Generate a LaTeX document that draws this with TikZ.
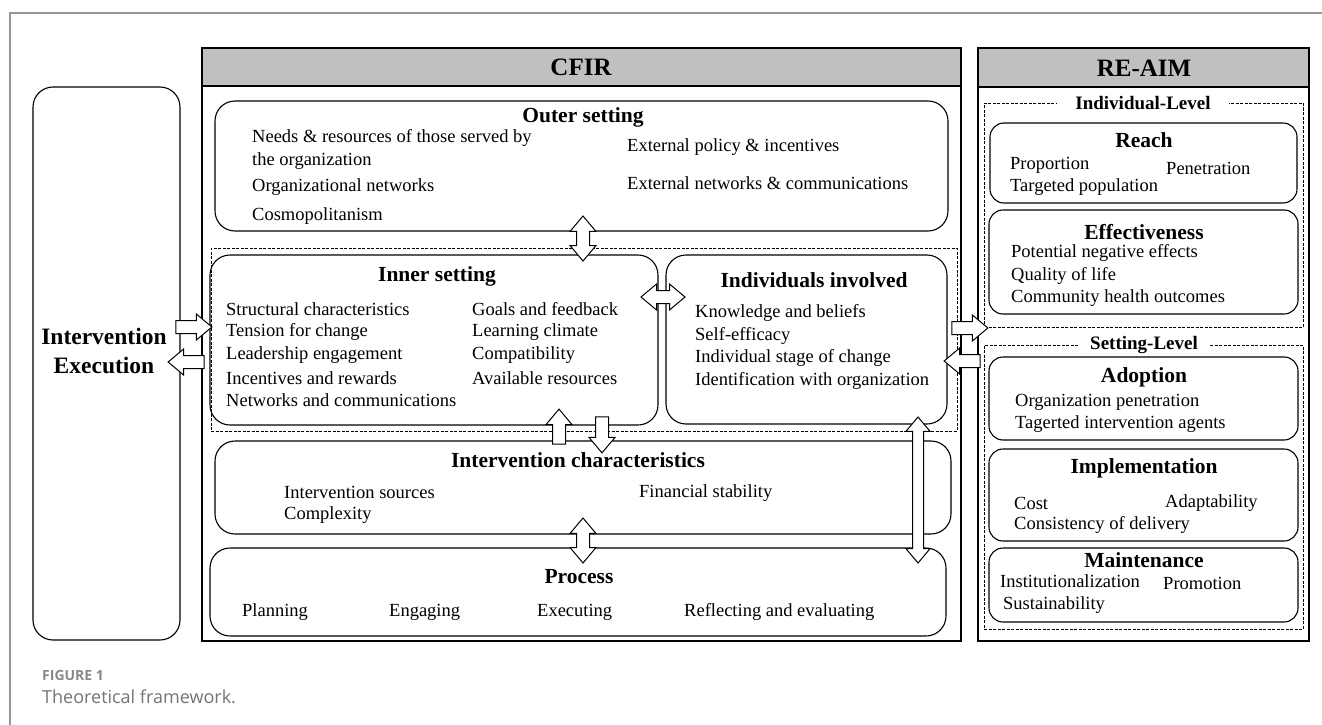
\documentclass[tikz,border=0pt]{standalone}
\usepackage{fontspec}
\setmainfont{Liberation Serif}
\newfontfamily\capfont{Open Sans}
\usetikzlibrary{shapes.arrows}
\definecolor{headgray}{RGB}{192,192,192}
\definecolor{framegray}{RGB}{150,150,150}
\definecolor{capgray}{RGB}{115,115,115}
\tikzset{
  panel/.style={draw, line width=1.2pt, inner sep=0pt, outer sep=0pt},
  rbox/.style={draw, line width=1.1pt, rounded corners=20pt, inner sep=0pt},
  sbox/.style={rbox, rounded corners=14pt},
  dbox/.style={draw, line width=0.7pt, dash pattern=on 3pt off 1.5pt, inner sep=0pt},
  hdr/.style={font=\fontsize{25}{28}\selectfont\bfseries, inner sep=0pt},
  ttl/.style={font=\fontsize{21.5}{24}\selectfont\bfseries, inner sep=0pt},
  lvl/.style={font=\fontsize{19}{21}\selectfont\bfseries, fill=white, inner xsep=12pt, inner ysep=1pt},
  itm/.style={font=\fontsize{18.5}{21}\selectfont, anchor=west, inner sep=0pt},
  barrow/.style={single arrow, draw, fill=white, line width=1pt, inner sep=6pt,
    single arrow head extend=6.5pt, single arrow tip angle=80, minimum height=#1},
  darrow/.style={double arrow, draw, fill=white, line width=1pt, inner sep=6pt,
    double arrow head extend=6.5pt, double arrow tip angle=80, minimum height=#1},
}
\begin{document}
\begin{tikzpicture}[x=1pt, y=-1pt]
\useasboundingbox (0,0) rectangle (1322,725);
\draw[framegray, line width=1.5pt] (10,725) -- (10,13) -- (1322,13);

% left column
\node[rbox, minimum width=147pt, minimum height=553pt] (exec) at (106.5,363.5) {};
\node[font=\fontsize{23.5}{29}\selectfont\bfseries, align=center] (execlbl) at (104,351) {Intervention\\Execution};

% CFIR panel
\node[panel, minimum width=759pt, minimum height=593pt] (cfir) at (581.5,344.5) {};
\node[panel, fill=headgray, minimum width=759pt, minimum height=38pt] (cfirhead) at (581.5,67) {};
\node[hdr] (cfirlbl) at (581,67) {CFIR};

\node[rbox, minimum width=733pt, minimum height=130pt] (outer) at (581.5,166) {};
\node[ttl] (outerlbl) at (583,117) {Outer setting};
\node[itm] (os1) at (252,138) {Needs \& resources of those served by};
\node[itm] (os2) at (252,161) {the organization};
\node[itm] (os3) at (252,187) {Organizational networks};
\node[itm] (os4) at (252,216) {Cosmopolitanism};
\node[itm] (os5) at (627,147) {External policy \& incentives};
\node[itm] (os6) at (627,183) {External networks \& communications};

\node[dbox, minimum width=746pt, minimum height=183pt] (core) at (584,339.5) {};
\node[rbox, minimum width=448pt, minimum height=170pt] (inner) at (434,340) {};
\node[ttl] (innerlbl) at (437,276) {Inner setting};
\node[itm] (is1) at (226,309) {Structural characteristics};
\node[itm] (is2) at (226,332) {Tension for change};
\node[itm] (is3) at (226,355) {Leadership engagement};
\node[itm] (is4) at (226,378) {Incentives and rewards};
\node[itm] (is5) at (226,400) {Networks and communications};
\node[itm] (is6) at (472,309) {Goals and feedback};
\node[itm] (is7) at (472,332) {Learning climate};
\node[itm] (is8) at (472,355) {Compatibility};
\node[itm] (is9) at (472,378) {Available resources};

\node[rbox, minimum width=281pt, minimum height=169pt] (indiv) at (806.5,339.5) {};
\node[ttl] (indivlbl) at (814,280) {Individuals involved};
\node[itm] (ii1) at (695,313) {Knowledge and beliefs};
\node[itm] (ii2) at (695,336) {Self-efficacy};
\node[itm] (ii3) at (695,358) {Individual stage of change};
\node[itm] (ii4) at (695,381) {Identification with organization};

\node[rbox, minimum width=736pt, minimum height=93pt] (intchar) at (583,487.5) {};
\node[ttl] (intcharlbl) at (578,460) {Intervention characteristics};
\node[itm] (ic1) at (284,492) {Intervention sources};
\node[itm] (ic2) at (284,515) {Complexity};
\node[itm] (ic3) at (639,493) {Financial stability};

\node[rbox, minimum width=736pt, minimum height=88pt] (process) at (578,592) {};
\node[ttl] (processlbl) at (579,577) {Process};
\node[itm] (pr1) at (242,612) {Planning};
\node[itm] (pr2) at (389,612) {Engaging};
\node[itm] (pr3) at (537,612) {Executing};
\node[itm] (pr4) at (684,612) {Reflecting and evaluating};

% RE-AIM panel
\node[panel, minimum width=331pt, minimum height=593pt] (reaim) at (1143.5,344.5) {};
\node[panel, fill=headgray, minimum width=331pt, minimum height=39pt] (reaimhead) at (1143.5,67.5) {};
\node[hdr] (reaimlbl) at (1144,68) {RE-AIM};

\node[dbox, minimum width=319pt, minimum height=224pt] (indlevel) at (1143.5,215) {};
\node[lvl, inner xsep=18pt] (indlevellbl) at (1143,103) {Individual-Level};
\node[sbox, minimum width=307pt, minimum height=80pt] (reach) at (1143.5,163) {};
\node[ttl] (reachlbl) at (1144,140) {Reach};
\node[itm] (re1) at (1010,165) {Proportion};
\node[itm] (re2) at (1166,168) {Penetration};
\node[itm] (re3) at (1010,187) {Targeted population};
\node[sbox, minimum width=309pt, minimum height=104pt] (effect) at (1143.5,262) {};
\node[ttl] (effectlbl) at (1144,232) {Effectiveness};
\node[itm] (ef1) at (1011,253) {Potential negative effects};
\node[itm] (ef2) at (1011,276) {Quality of life};
\node[itm] (ef3) at (1011,298) {Community health outcomes};

\node[dbox, minimum width=319pt, minimum height=284pt] (setlevel) at (1143.5,487) {};
\node[lvl] (setlevellbl) at (1144,345) {Setting-Level};
\node[sbox, minimum width=309pt, minimum height=83pt] (adopt) at (1143.5,398.5) {};
\node[ttl] (adoptlbl) at (1144,377) {Adoption};
\node[itm] (ad1) at (1015,402) {Organization penetration};
\node[itm] (ad2) at (1015,424) {Tagerted intervention agents};
\node[sbox, minimum width=309pt, minimum height=92pt] (implem) at (1143.5,495) {};
\node[ttl] (implemlbl) at (1144,468) {Implementation};
\node[itm] (im1) at (1014,503) {Cost};
\node[itm] (im2) at (1165,503) {Adaptability};
\node[itm] (im3) at (1014,525) {Consistency of delivery};
\node[sbox, minimum width=309pt, minimum height=74pt] (maint) at (1143.5,585) {};
\node[ttl] (maintlbl) at (1144,560) {Maintenance};
\node[itm] (ma1) at (1000,581) {Institutionalization};
\node[itm] (ma2) at (1163,583) {Promotion};
\node[itm] (ma3) at (1003,605) {Sustainability};

% block arrows
\node[barrow=36pt] (execin) at (190,327) {};
\node[barrow=36pt, rotate=180] (execout) at (190,362) {};
\node[darrow=45pt, rotate=90] (outerinner) at (583,238.5) {};
\node[darrow=44pt] (innerindiv) at (663,297) {};
\node[barrow=35pt, rotate=90] (charup) at (559,430.5) {};
\node[barrow=36pt, rotate=-90] (chardown) at (602,431) {};
\node[darrow=146pt, rotate=90, inner sep=5pt] (indivproc) at (918,490) {};
\node[darrow=45pt, rotate=90] (charproc) at (583,540.5) {};
\node[barrow=36pt] (reaimin) at (966,328) {};
\node[barrow=36pt, rotate=180] (reaimout) at (966,361) {};

% caption
\node[font=\capfont\bfseries\fontsize{14}{16}\selectfont, text=capgray!85, anchor=base west, inner sep=0pt] (fig) at (42,680) {FIGURE 1};
\node[font=\capfont\fontsize{18}{20}\selectfont, text=capgray, anchor=base west, inner sep=0pt] (figcap) at (42,703) {Theoretical framework.};
\end{tikzpicture}
\end{document}
